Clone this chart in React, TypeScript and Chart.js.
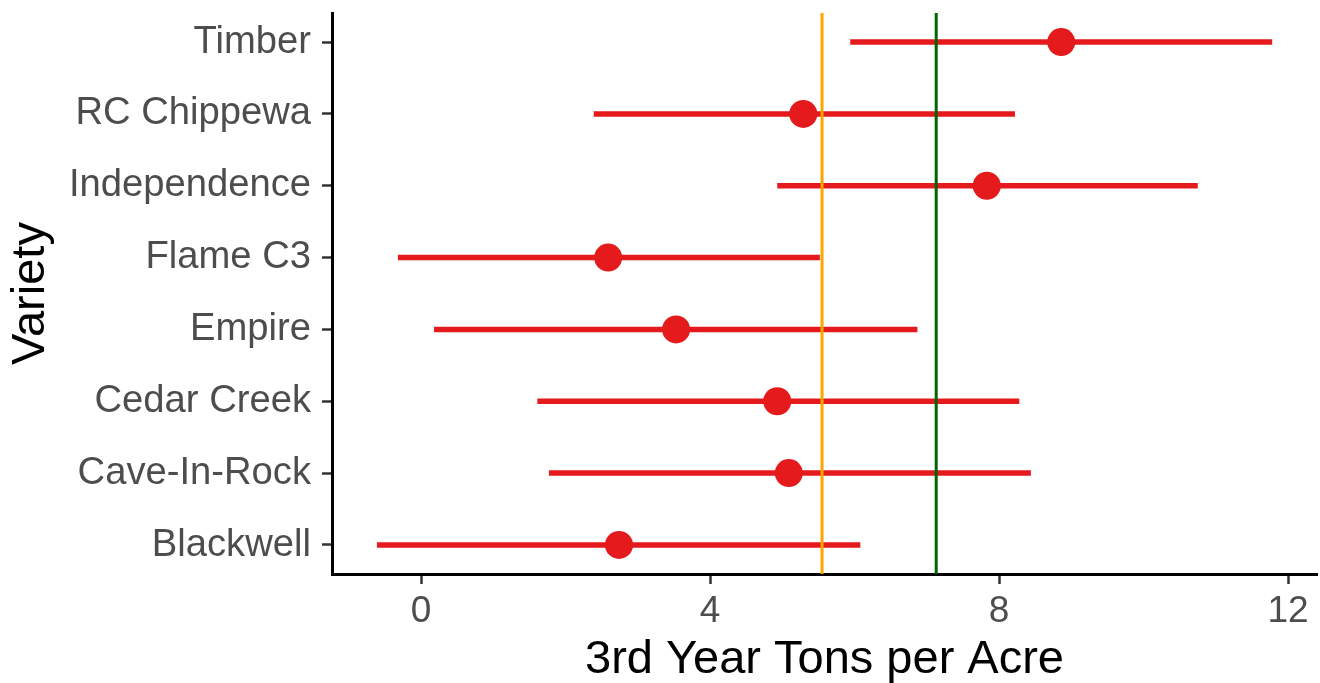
import React, { useEffect, useRef } from "react";
import { Chart, registerables } from "chart.js";

Chart.register(...registerables);

const varieties = ["Timber", "RC Chippewa", "Independence", "Flame C3", "Empire", "Cedar Creek", "Cave-In-Rock", "Blackwell"];
const means = [8.86, 5.29, 7.83, 2.59, 3.53, 4.93, 5.09, 2.74];
const lower = [5.94, 2.39, 4.93, -0.32, 0.18, 1.61, 1.77, -0.61];
const upper = [11.78, 8.22, 10.75, 5.52, 6.87, 8.28, 8.44, 6.08];
const refLines = [5.55, 7.13];
const refColors = ["#FFA500", "#006400"];
const xTicks = [0, 4, 8, 12];
const xTitle = "3rd Year Tons per Acre";
const yTitle = "Variety";

const X_MIN = -1.232;
const X_MAX = 12.4;
const Y_MIN = -0.404;
const Y_MAX = 7.404;
const FONT = "'Liberation Sans', Arial, sans-serif";
const RED = "#E41A1C";

export default function App() {
  const ref = useRef<HTMLCanvasElement | null>(null);

  useEffect(() => {
    document.body.style.margin = "0";
    const canvas = ref.current;
    if (!canvas) return;

    const datasets: any[] = [];
    refLines.forEach((v, i) => {
      datasets.push({
        data: [{ x: v, y: Y_MIN }, { x: v, y: Y_MAX }],
        showLine: true,
        borderColor: refColors[i],
        borderWidth: 3,
        pointRadius: 0,
        order: 0,
      });
    });
    datasets.push({
      data: varieties.map((_, i) => ({ x: means[i], y: i })),
      backgroundColor: RED,
      borderWidth: 0,
      pointRadius: 14,
      pointHoverRadius: 14,
      order: 1,
    });
    varieties.forEach((_, i) => {
      datasets.push({
        data: [{ x: lower[i], y: i }, { x: upper[i], y: i }],
        showLine: true,
        borderColor: RED,
        borderWidth: 5.5,
        borderCapStyle: "butt",
        pointRadius: 0,
        order: 2,
      });
    });

    const chart = new Chart(canvas, {
      type: "scatter",
      data: { datasets },
      options: {
        animation: false,
        responsive: false,
        maintainAspectRatio: false,
        layout: { autoPadding: false, padding: { top: 13, right: 3, left: 0, bottom: 0 } },
        plugins: { legend: { display: false }, tooltip: { enabled: false } },
        scales: {
          x: {
            type: "linear",
            min: X_MIN,
            max: X_MAX,
            afterBuildTicks: (s: any) => {
              s.ticks = xTicks.map((v) => ({ value: v }));
            },
            afterFit: (s: any) => {
              s.height = 109;
              s.paddingLeft = 0;
              s.paddingRight = 0;
            },
            grid: {
              drawOnChartArea: false,
              drawTicks: true,
              tickLength: 10,
              tickColor: "#333333",
              tickWidth: 2.5,
            },
            border: { display: true, color: "#000000", width: 3 },
            ticks: {
              color: "#4D4D4D",
              font: { family: FONT, size: 37 },
              padding: 6,
              maxRotation: 0,
              callback: (v: any) => String(v),
            },
            title: {
              display: true,
              text: xTitle,
              color: "#000000",
              font: { family: FONT, size: 47 },
              padding: { top: 0, bottom: -5 },
            },
          },
          y: {
            type: "linear",
            min: Y_MIN,
            max: Y_MAX,
            reverse: true,
            afterBuildTicks: (s: any) => {
              s.ticks = varieties.map((_, i) => ({ value: i }));
            },
            afterFit: (s: any) => {
              s.width = 332;
              s.paddingTop = 0;
              s.paddingBottom = 0;
            },
            grid: {
              drawOnChartArea: false,
              drawTicks: true,
              tickLength: 10,
              tickColor: "#333333",
              tickWidth: 2.5,
            },
            border: { display: true, color: "#000000", width: 3 },
            ticks: {
              color: "#4D4D4D",
              font: { family: FONT, size: 38.2 },
              padding: 11,
              autoSkip: false,
              callback: (v: any) => varieties[v as number] ?? "",
            },
            title: {
              display: true,
              text: yTitle,
              color: "#000000",
              font: { family: FONT, size: 47 },
              padding: { top: 3, bottom: 0 },
            },
          },
        },
      },
    });
    return () => chart.destroy();
  }, []);

  return (
    <div style={{ width: 1320, height: 683, background: "#ffffff" }}>
      <canvas ref={ref} width={1320} height={683} style={{ display: "block" }} />
    </div>
  );
}
